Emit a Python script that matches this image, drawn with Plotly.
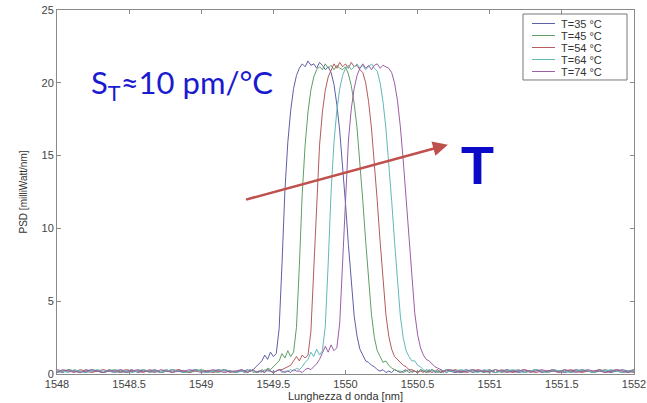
import plotly.graph_objects as go

# ---------------- data ----------------
wl_left = [1548.00, 1548.04, 1548.08, 1548.12, 1548.16, 1548.20, 1548.24, 1548.28, 1548.32, 1548.36,
           1548.40, 1548.44, 1548.48, 1548.52, 1548.56, 1548.60, 1548.64, 1548.68, 1548.72, 1548.76,
           1548.80, 1548.84, 1548.88, 1548.92, 1548.96, 1549.00, 1549.04, 1549.08, 1549.12, 1549.16,
           1549.20, 1549.24, 1549.28]
wl_mid = [1549.30, 1549.32, 1549.34, 1549.36, 1549.38, 1549.40, 1549.42, 1549.44, 1549.46, 1549.48,
          1549.50, 1549.52, 1549.54, 1549.56, 1549.58, 1549.60, 1549.62, 1549.64, 1549.66, 1549.68,
          1549.70, 1549.72, 1549.74, 1549.76, 1549.78, 1549.80, 1549.82, 1549.84, 1549.86, 1549.88,
          1549.90, 1549.92, 1549.94, 1549.96, 1549.98, 1550.00, 1550.02, 1550.04, 1550.06, 1550.08,
          1550.10, 1550.12, 1550.14, 1550.16, 1550.18, 1550.20, 1550.22, 1550.24, 1550.26, 1550.28,
          1550.30, 1550.32, 1550.34, 1550.36, 1550.38, 1550.40, 1550.42, 1550.44, 1550.46, 1550.48,
          1550.50, 1550.52, 1550.54, 1550.56, 1550.58, 1550.60, 1550.62, 1550.64, 1550.66, 1550.68,
          1550.70]
wl_right = [1550.72, 1550.76, 1550.80, 1550.84, 1550.88, 1550.92, 1550.96, 1551.00, 1551.04, 1551.08,
            1551.12, 1551.16, 1551.20, 1551.24, 1551.28, 1551.32, 1551.36, 1551.40, 1551.44, 1551.48,
            1551.52, 1551.56, 1551.60, 1551.64, 1551.68, 1551.72, 1551.76, 1551.80, 1551.84, 1551.88,
            1551.92, 1551.96, 1552.00]
wavelength = wl_left + wl_mid + wl_right

labels = ["T=35 °C", "T=45 °C", "T=54 °C", "T=64 °C", "T=74 °C"]

psd_35 = ([0.2, 0.1, 0.3, 0.2, 0.1, 0.3, 0.2, 0.2, 0.1, 0.3, 0.2, 0.1, 0.2, 0.3, 0.1, 0.2, 0.2,
           0.3, 0.1, 0.2, 0.3, 0.2, 0.1, 0.2, 0.3, 0.2, 0.1, 0.2, 0.3, 0.2, 0.2, 0.1, 0.3]
          + [0.2, 0.3, 0.2, 0.3, 0.5, 0.7, 0.9, 1.3, 1.0, 1.5, 1.2, 1.4, 3.1, 7.6, 12.6, 15.9, 18.1,
             19.6, 20.5, 21.0, 21.3, 21.1, 21.5, 21.2, 21.3, 21.0, 21.4, 21.2, 20.9, 21.1, 20.7, 19.9,
             18.5, 16.7, 14.4, 11.7, 8.9, 6.2, 4.0, 2.6, 1.7, 1.3, 0.9, 0.8, 0.6, 0.5, 0.3, 0.2, 0.3,
             0.1,
             0.2, 0.1, 0.3, 0.2, 0.1, 0.2, 0.3, 0.1, 0.2, 0.2, 0.1, 0.3, 0.2, 0.1, 0.2, 0.3, 0.1,
             0.2, 0.1, 0.2, 0.3]
          + [0.2, 0.1, 0.2, 0.3, 0.1, 0.2, 0.2, 0.3, 0.1, 0.2, 0.3, 0.2, 0.1, 0.2, 0.2, 0.3, 0.1,
             0.2, 0.3, 0.2, 0.1, 0.2, 0.3, 0.2, 0.2, 0.1, 0.3, 0.2, 0.1, 0.2, 0.3, 0.2, 0.1])

psd_45 = ([0.1, 0.2, 0.3, 0.2, 0.2, 0.1, 0.3, 0.2, 0.1, 0.2, 0.3, 0.2, 0.1, 0.2, 0.2, 0.3, 0.1,
           0.2, 0.2, 0.3, 0.1, 0.3, 0.2, 0.1, 0.2, 0.3, 0.2, 0.2, 0.1, 0.3, 0.2, 0.1, 0.2]
          + [0.1, 0.2, 0.3, 0.1, 0.2, 0.1,
             0.3, 0.2, 0.4, 0.3, 0.5, 0.7, 0.9, 1.4, 1.1, 1.6, 1.2, 1.5, 3.2, 7.4, 12.4, 15.7, 18.0,
             19.5, 20.4, 20.9, 21.1, 20.9, 21.3, 21.0, 21.2, 20.9, 21.2, 21.0, 20.9, 21.1, 20.6, 19.8,
             18.6, 16.9, 14.6, 11.9, 9.1, 6.4, 4.1, 2.5, 1.6, 1.2, 0.8, 0.9, 0.6, 0.4, 0.3, 0.2, 0.2,
             0.1,
             0.2, 0.3, 0.1, 0.2, 0.1, 0.3, 0.2, 0.2, 0.1, 0.3, 0.2, 0.1, 0.2, 0.1, 0.3]
          + [0.3, 0.2, 0.1, 0.2, 0.3, 0.2, 0.1, 0.2, 0.3, 0.1, 0.2, 0.2, 0.3, 0.1, 0.2, 0.3, 0.2,
             0.1, 0.2, 0.2, 0.3, 0.1, 0.2, 0.3, 0.2, 0.1, 0.2, 0.3, 0.2, 0.2, 0.1, 0.2, 0.3])

psd_54 = ([0.3, 0.2, 0.2, 0.1, 0.3, 0.2, 0.1, 0.2, 0.3, 0.2, 0.1, 0.2, 0.3, 0.2, 0.2, 0.1, 0.3,
           0.2, 0.1, 0.2, 0.2, 0.3, 0.2, 0.1, 0.3, 0.2, 0.2, 0.1, 0.2, 0.3, 0.1, 0.2, 0.2]
          + [0.2, 0.1, 0.2, 0.3, 0.1, 0.2, 0.2, 0.1, 0.3, 0.2, 0.1,
             0.2, 0.3, 0.3, 0.4, 0.5, 0.6, 0.9, 1.2, 0.9, 1.3, 1.1, 1.3, 2.9, 7.3, 12.3, 15.7, 18.0,
             19.5, 20.4, 20.9, 21.3, 21.0, 21.4, 21.1, 21.3, 21.0, 21.4, 21.1, 21.2, 20.9, 20.7, 20.0,
             18.7, 16.9, 14.6, 11.9, 9.1, 6.4, 4.1, 2.6, 1.7, 1.2, 1.0, 0.8, 0.6, 0.5, 0.3, 0.3, 0.2,
             0.1,
             0.2, 0.1, 0.3, 0.2, 0.1, 0.2, 0.3, 0.1, 0.2, 0.1]
          + [0.2, 0.3, 0.2, 0.1, 0.2, 0.3, 0.2, 0.2, 0.1, 0.3, 0.2, 0.1, 0.2, 0.3, 0.2, 0.1, 0.2,
             0.2, 0.3, 0.1, 0.2, 0.3, 0.2, 0.1, 0.2, 0.2, 0.3, 0.1, 0.2, 0.3, 0.2, 0.1, 0.2])

psd_64 = ([0.2, 0.2, 0.1, 0.3, 0.2, 0.1, 0.2, 0.3, 0.2, 0.2, 0.1, 0.3, 0.2, 0.1, 0.2, 0.3, 0.2,
           0.2, 0.1, 0.2, 0.3, 0.2, 0.1, 0.2, 0.3, 0.2, 0.1, 0.2, 0.2, 0.3, 0.2, 0.1, 0.2]
          + [0.1, 0.2, 0.3, 0.2, 0.1, 0.2, 0.1, 0.3, 0.2, 0.2, 0.1, 0.2, 0.3, 0.1, 0.2, 0.2,
             0.3, 0.2, 0.4, 0.3, 0.5, 0.8, 1.0, 1.5, 1.2, 1.7, 1.3, 1.6, 3.3, 7.6, 12.5, 15.9, 18.1,
             19.6, 20.5, 21.0, 21.2, 20.9, 21.1, 21.3, 21.0, 21.2, 20.9, 21.1, 21.3, 21.0, 20.8, 20.0,
             18.7, 16.9, 14.6, 11.9, 9.1, 6.3, 4.0, 2.5, 1.6, 1.2, 0.9, 0.9, 0.6, 0.5, 0.3, 0.2, 0.3,
             0.2,
             0.2, 0.1, 0.3, 0.2, 0.1]
          + [0.2, 0.2, 0.3, 0.2, 0.2, 0.1, 0.3, 0.2, 0.1, 0.2, 0.2, 0.3, 0.2, 0.1, 0.2, 0.3, 0.2,
             0.1, 0.3, 0.2, 0.2, 0.1, 0.2, 0.3, 0.2, 0.1, 0.2, 0.2, 0.3, 0.2, 0.1, 0.2, 0.2])

psd_74 = ([0.1, 0.3, 0.2, 0.2, 0.1, 0.2, 0.3, 0.2, 0.1, 0.2, 0.2, 0.3, 0.1, 0.2, 0.3, 0.2, 0.2,
           0.1, 0.3, 0.2, 0.1, 0.2, 0.2, 0.3, 0.2, 0.1, 0.2, 0.3, 0.2, 0.1, 0.2, 0.2, 0.3]
          + [0.2, 0.1, 0.2, 0.3, 0.1, 0.2, 0.2, 0.1, 0.3, 0.2, 0.1, 0.2, 0.3, 0.2, 0.1, 0.2, 0.1,
             0.3, 0.2, 0.2, 0.1,
             0.3, 0.4, 0.3, 0.5, 0.7, 1.0, 1.4, 1.9, 1.5, 2.0, 1.6, 1.8, 3.5, 7.7, 12.6, 16.0, 18.2,
             19.6, 20.5, 21.0, 21.3, 21.0, 21.2, 20.9, 21.2, 21.3, 21.0, 21.2, 21.1, 21.0, 20.7, 20.0,
             18.8, 17.0, 14.7, 12.0, 9.2, 6.5, 4.2, 2.7, 1.8, 1.3, 1.0, 0.9, 0.7, 0.5, 0.4, 0.3, 0.2,
             0.2]
          + [0.3, 0.2, 0.1, 0.2, 0.3, 0.2, 0.2, 0.1, 0.3, 0.2, 0.1, 0.2, 0.2, 0.3, 0.1, 0.2, 0.3,
             0.2, 0.2, 0.1, 0.3, 0.2, 0.1, 0.2, 0.3, 0.2, 0.2, 0.1, 0.2, 0.3, 0.2, 0.1, 0.3])

series = [psd_35, psd_45, psd_54, psd_64, psd_74]
colors = ["#5d5fa8", "#5e9e62", "#b45a5c", "#62b8b8", "#9a5ea6"]

x_ticks = [1548, 1548.5, 1549, 1549.5, 1550, 1550.5, 1551, 1551.5, 1552]
x_tick_text = ["1548", "1548.5", "1549", "1549.5", "1550", "1550.5", "1551", "1551.5", "1552"]
y_ticks = [0, 5, 10, 15, 20, 25]

# ---------------- figure ----------------
fig = go.Figure()
for lab, ys, col in zip(labels, series, colors):
    fig.add_trace(go.Scatter(x=wavelength, y=ys, mode="lines", name=lab,
                             line=dict(color=col, width=1), showlegend=False))

tick_font = dict(family="Liberation Sans, Arial", size=11, color="#444444")
axis_common = dict(showgrid=False, zeroline=False, showline=True, linecolor="#8a8a8a",
                   linewidth=1, mirror="ticks", ticks="inside", ticklen=4, tickcolor="#8a8a8a",
                   tickfont=tick_font, automargin=False, ticklabeloverflow="allow")

fig.update_xaxes(range=[1548, 1552], tickvals=x_ticks, ticktext=x_tick_text,
                 title=dict(text="Lunghezza d onda [nm]", standoff=0,
                            font=dict(family="Liberation Sans, Arial", size=11, color="#333333")),
                 **axis_common)
fig.update_yaxes(range=[0, 25], tickvals=y_ticks,
                 title=dict(text="PSD [milliWatt/nm]", standoff=12,
                            font=dict(family="Liberation Sans, Arial", size=10, color="#333333")),
                 **axis_common)

fig.update_layout(
    width=647, height=403,
    margin=dict(l=57, r=13, t=10, b=29),
    plot_bgcolor="white", paper_bgcolor="white",
    showlegend=False,
)

# ---- legend box drawn by hand (MATLAB style, compact) ----
leg_x0, leg_x1, leg_y0, leg_y1 = 0.8076, 0.9879, 0.8077, 0.9890
fig.add_shape(type="rect", xref="paper", yref="paper", x0=leg_x0, x1=leg_x1, y0=leg_y0, y1=leg_y1,
              line=dict(color="#777777", width=1), fillcolor="white", layer="above")
row_y = [0.9629, 0.9299, 0.8969, 0.8640, 0.8310]
for lab, col, ry in zip(labels, colors, row_y):
    fig.add_shape(type="line", xref="paper", yref="paper", x0=0.8232, x1=0.8631, y0=ry, y1=ry,
                  line=dict(color=col, width=1), layer="above")
    fig.add_annotation(x=0.8718, y=ry, xref="paper", yref="paper", xanchor="left",
                       yanchor="middle", text=lab, showarrow=False, borderpad=0,
                       font=dict(family="Liberation Sans, Arial", size=11, color="#333333"))

# ---- annotations ----
fig.add_annotation(x=1548.22, y=19.85, xref="x", yref="y", xanchor="left", yanchor="middle",
                   text="S<sub>T</sub>≈10 pm/°C", showarrow=False,
                   font=dict(family="Lato, Open Sans", size=31, color="#1a1ad0"))
fig.add_annotation(x=1550.79, y=14.35, xref="x", yref="y", xanchor="left", yanchor="middle",
                   text="<b>T</b>", showarrow=False,
                   font=dict(family="Liberation Sans, Arial", size=54, color="#0a0ac8"))
fig.add_annotation(x=1550.71, y=15.75, ax=1549.30, ay=11.95, xref="x", yref="y",
                   axref="x", ayref="y", text="", showarrow=True, arrowhead=2,
                   arrowsize=1.2, arrowwidth=2.5, arrowcolor="#c0504d")

fig.write_html("out.html")
